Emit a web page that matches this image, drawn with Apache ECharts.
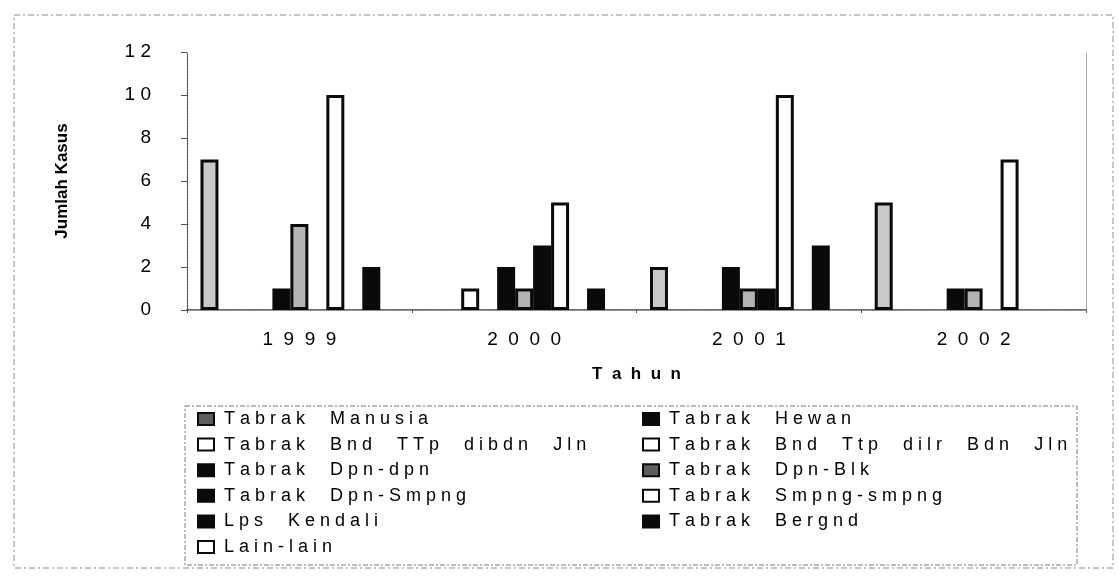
<!DOCTYPE html>
<html>
<head>
<meta charset="utf-8">
<script src="https://cdn.jsdelivr.net/npm/echarts@6/dist/echarts.min.js"></script>
<style>
  html, body { margin: 0; padding: 0; background: #ffffff; }
  #chart { width: 1119px; height: 576px; }
</style>
</head>
<body>
<div id="chart"></div>
<script>
// Kasus kecelakaan per jenis, 1999-2002
const years = ['1999', '2000', '2001', '2002'];
const yTicks = [0, 2, 4, 6, 8, 10, 12];

const tabrakManusia      = [7, 0, 2, 5];
const tabrakHewan        = [0, 0, 0, 0];
const tabrakBndTtpDibdn  = [0, 1, 0, 0];
const tabrakBndTtpDilr   = [0, 0, 0, 0];
const tabrakDpnDpn       = [1, 2, 2, 1];
const tabrakDpnBlk       = [4, 1, 1, 1];
const tabrakDpnSmpng     = [0, 3, 1, 0];
const tabrakSmpngSmpng   = [10, 5, 10, 7];
const lpsKendali         = [0, 0, 0, 0];
const tabrakBergnd       = [2, 1, 3, 0];
const lainLain           = [0, 0, 0, 0];

const seriesList = [
  { name: 'Tabrak Manusia',              data: tabrakManusia,     fill: '#c9c9c9', key: '#5e5e5e' },
  { name: 'Tabrak Hewan',                data: tabrakHewan,       fill: '#0a0a0a' },
  { name: 'Tabrak Bnd TTp dibdn Jln',    data: tabrakBndTtpDibdn, fill: '#ffffff' },
  { name: 'Tabrak Bnd Ttp dilr Bdn Jln', data: tabrakBndTtpDilr,  fill: '#ffffff' },
  { name: 'Tabrak Dpn-dpn',              data: tabrakDpnDpn,      fill: '#0a0a0a' },
  { name: 'Tabrak Dpn-Blk',              data: tabrakDpnBlk,      fill: '#b4b4b4', key: '#5e5e5e' },
  { name: 'Tabrak Dpn-Smpng',            data: tabrakDpnSmpng,    fill: '#0a0a0a' },
  { name: 'Tabrak Smpng-smpng',          data: tabrakSmpngSmpng,  fill: '#ffffff' },
  { name: 'Lps Kendali',                 data: lpsKendali,        fill: '#0a0a0a' },
  { name: 'Tabrak Bergnd',               data: tabrakBergnd,      fill: '#0a0a0a' },
  { name: 'Lain-lain',                   data: lainLain,          fill: '#ffffff' }
];

// wide letter spacing used throughout the chart text
function spaced(text, letterGap, wordGap) {
  return text.split(' ').map(w => w.split('').join(letterGap)).join(wordGap);
}

const FONT = 'Liberation Sans, Arial, sans-serif';
const INK = '#000000';

// legend is laid out in two columns, row by row
const leftCol = seriesList.filter((s, i) => i % 2 === 0);
const rightCol = seriesList.filter((s, i) => i % 2 === 1);

function legendData(col) {
  return col.map(s => ({
    name: s.name,
    itemStyle: { color: s.key || s.fill, borderColor: '#0a0a0a', borderWidth: 2 }
  }));
}

function legendBlock(col, left) {
  return {
    orient: 'vertical',
    left: left,
    top: 410,
    padding: 0,
    itemWidth: 16,
    itemHeight: 12,
    itemGap: 7.6,
    icon: 'rect',
    selectedMode: false,
    data: legendData(col),
    formatter: name => ' ' + spaced(name, ' ', '     '),
    textStyle: { fontFamily: FONT, fontSize: 18, lineHeight: 18, color: INK }
  };
}

const chart = echarts.init(document.getElementById('chart'), null, { renderer: 'canvas' });

chart.setOption({
  animation: false,
  backgroundColor: '#ffffff',
  textStyle: { fontFamily: FONT },
  grid: { left: 187, right: 33, top: 52, bottom: 266, containLabel: false },
  legend: [legendBlock(leftCol, 197), legendBlock(rightCol, 642)],
  graphic: [
    {
      type: 'rect', silent: true, z: -1,
      shape: { x: 14, y: 15, width: 1099, height: 553 },
      style: { fill: 'none', stroke: '#8a8a8a', lineWidth: 1, lineDash: [6, 3, 2, 3] }
    },
    {
      type: 'rect', silent: true, z: -1,
      shape: { x: 185, y: 406, width: 892, height: 159 },
      style: { fill: 'none', stroke: '#7a7a7a', lineWidth: 1, lineDash: [5, 2, 2, 2] }
    }
  ],
  xAxis: [
    {
      type: 'category',
      data: years,
      position: 'bottom',
      name: spaced('Tahun', '  ', '  '),
      nameLocation: 'middle',
      nameGap: 56,
      nameTextStyle: { fontFamily: FONT, fontSize: 17, fontWeight: 'bold', color: INK },
      axisLine: { lineStyle: { color: '#333333', width: 1.5, type: [2, 1] } },
      axisTick: { show: true, length: 3, lineStyle: { color: '#555555' } },
      axisLabel: {
        margin: 20,
        fontFamily: FONT, fontSize: 19, color: INK,
        formatter: v => spaced(v, '  ', '  ')
      },
      splitLine: { show: false }
    },
    {
      type: 'category',
      data: years,
      position: 'top',
      axisLine: { show: true, lineStyle: { color: '#9a9a9a', width: 1, type: [1, 1] } },
      axisTick: { show: false },
      axisLabel: { show: false },
      splitLine: { show: false }
    }
  ],
  yAxis: [
    {
      type: 'value',
      min: yTicks[0],
      max: yTicks[yTicks.length - 1],
      interval: 2,
      position: 'left',
      name: 'Jumlah Kasus',
      nameLocation: 'middle',
      nameGap: 116,
      nameRotate: 90,
      nameTextStyle: { fontFamily: FONT, fontSize: 17, fontWeight: 'bold', color: INK },
      axisLine: { show: true, lineStyle: { color: '#555555', width: 1.2, type: [2, 1] } },
      axisTick: { show: true, inside: false, length: 6, lineStyle: { color: '#555555' } },
      axisLabel: {
        margin: 36,
        fontFamily: FONT, fontSize: 19, color: INK,
        formatter: v => spaced(String(v), ' ', ' ')
      },
      splitLine: { show: false }
    },
    {
      type: 'value',
      min: yTicks[0],
      max: yTicks[yTicks.length - 1],
      interval: 2,
      position: 'right',
      axisLine: { show: true, lineStyle: { color: '#9a9a9a', width: 1, type: [1, 1] } },
      axisTick: { show: false },
      axisLabel: { show: false },
      splitLine: { show: false }
    }
  ],
  series: seriesList.map(s => ({
    name: s.name,
    type: 'bar',
    xAxisIndex: 0,
    yAxisIndex: 0,
    barGap: '0%',
    barCategoryGap: '12%',
    itemStyle: { color: s.fill, borderColor: '#0a0a0a', borderWidth: 3 },
    emphasis: { disabled: true },
    data: s.data.map(v => v === 0 ? { value: v, itemStyle: { borderWidth: 0 } } : v)
  }))
});
</script>
</body>
</html>
